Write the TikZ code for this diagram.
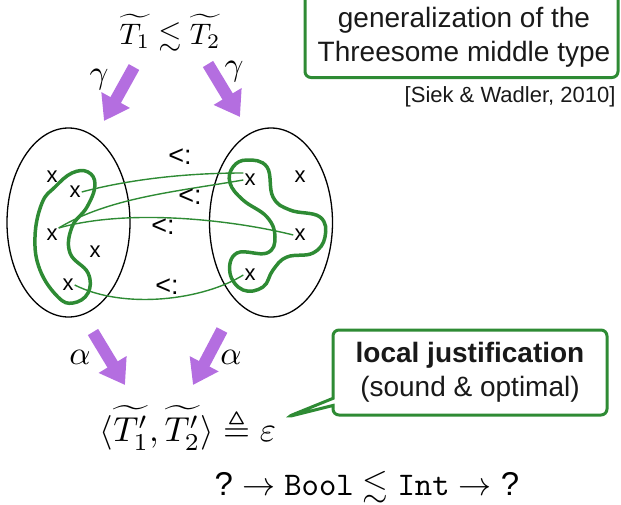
\documentclass[tikz,border=0pt]{standalone}
\usepackage{amsmath,amssymb}
\usepackage{fontspec}
\setsansfont{Liberation Sans}
\usepackage{tikz}
\usetikzlibrary{arrows.meta,shapes.geometric,shapes.callouts}

\definecolor{leaf}{RGB}{46,139,52}
\definecolor{lilac}{RGB}{180,110,224}

\begin{document}
\begin{tikzpicture}[x=1pt, y=-1pt, >=Latex,
  set/.style={ellipse, draw, line width=1.3pt, minimum width=123pt,
              minimum height=189pt, inner sep=0pt},
  elem/.style={font=\fontsize{22}{22}\sffamily, inner sep=1pt},
  subrel/.style={font=\fontsize{27}{27}\sffamily, inner sep=0pt},
  rel/.style={leaf, line width=1.4pt},
  blob/.style={leaf, line width=3.5pt, line join=round},
  absarrow/.style={lilac, line width=12pt, -{Triangle[width=31pt,length=24pt]}},
  big/.style={scale=3.3, inner sep=0pt},
  note/.style={font=\fontsize{28}{34}\sffamily, align=center, text=black!90}]
  \useasboundingbox (0,0) rectangle (621,504);

  % types and their concretisation
  \node[big, scale=0.9] (top) at (170,33) {$\widetilde{T_1} \lesssim \widetilde{T_2}$};
  \node[note] (gen) at (464,37.5) {generalization of the\\ Threesome middle type};
  \draw[leaf, line width=3pt, rounded corners=6pt]
    ([shift={(-159,40)}]gen.center) rectangle ([shift={(154,-70)}]gen.center);
  \node[font=\fontsize{22}{22}\sffamily, text=black!90, anchor=east] (cite)
    at (619,97) {[Siek \& Wadler, 2010]};

  \coordinate (g1a) at (134,67);  \coordinate (g1b) at (104,121);
  \coordinate (g2a) at (208,64);  \coordinate (g2b) at (240,117);
  \draw[absarrow] (g1a) -- (g1b);
  \draw[absarrow] (g2a) -- (g2b);
  \node[big] (gam1) at (99,80) {$\gamma$};
  \node[big] (gam2) at (234,72) {$\gamma$};

  % the two sets of static types
  \node[set] (lset) at (68.5,222.5) {};
  \node[set] (rset) at (271,222.5) {};
  \node[elem] (l1) at (52,177) {x};
  \node[elem] (l2) at (75,192) {x};
  \node[elem] (l3) at (52,235) {x};
  \node[elem] (l4) at (95,252) {x};
  \node[elem] (l5) at (68,285) {x};
  \node[elem] (r1) at (250,180) {x};
  \node[elem] (r2) at (300,177) {x};
  \node[elem] (r3) at (300,235) {x};
  \node[elem] (r4) at (250,275) {x};

  \draw[blob] plot[smooth cycle, tension=0.7] coordinates {(42,203) (35,237)
    (40,270) (58,297) (73,303) (88,293) (88,273) (70,253) (72,227) (87,207)
    (95,185) (88,172) (72,173) (55,187)};
  \draw[blob] plot[smooth cycle, tension=0.7] coordinates {(233,167) (247,160)
    (267,167) (273,197) (290,210) (320,217) (325,237) (313,253) (287,257)
    (273,270) (263,287) (243,290) (230,273) (237,253) (267,253) (275,237)
    (267,217) (243,200) (230,183)};

  \draw[rel] (l2.east) .. controls +(45,-12) and +(-60,0) .. (r1.north west);
  \draw[rel] (l3.north east) .. controls +(50,-30) and +(-70,12) .. (r1.west);
  \draw[rel] (l3.north east) .. controls +(70,-20) and +(-60,-15) .. (r3.west);
  \draw[rel] (l5.east) .. controls +(50,25) and +(-40,25) .. (r4.west);
  \node[subrel] (s1) at (180,157) {<:};
  \node[subrel] (s2) at (190,197) {<:};
  \node[subrel] (s3) at (163,227) {<:};
  \node[subrel] (s4) at (167,287) {<:};

  % abstraction back to gradual types
  \coordinate (a1a) at (93,332);  \coordinate (a1b) at (125,385);
  \coordinate (a2a) at (222,330); \coordinate (a2b) at (193,385);
  \draw[absarrow] (a1a) -- (a1b);
  \draw[absarrow] (a2a) -- (a2b);
  \node[big] (al1) at (80,357) {$\alpha$};
  \node[big] (al2) at (231,357) {$\alpha$};

  \node[big, scale=1.05] (ev) at (188,428)
    {$\langle\widetilde{T'_1},\widetilde{T'_2}\rangle \triangleq \varepsilon$};
  \node[note, rectangle callout, draw=leaf, line width=3pt, rounded corners=6pt,
        fill=white, minimum width=274pt, minimum height=85pt,
        callout absolute pointer={(287,417)}] (just) at (470,372.5)
    {\textbf{local justification}\\ (sound \& optimal)};

  \node[big] (ex) at (367,487)
    {$\textsf{?} \to \texttt{Bool} \lesssim \texttt{Int} \to \textsf{?}$};
\end{tikzpicture}
\end{document}
